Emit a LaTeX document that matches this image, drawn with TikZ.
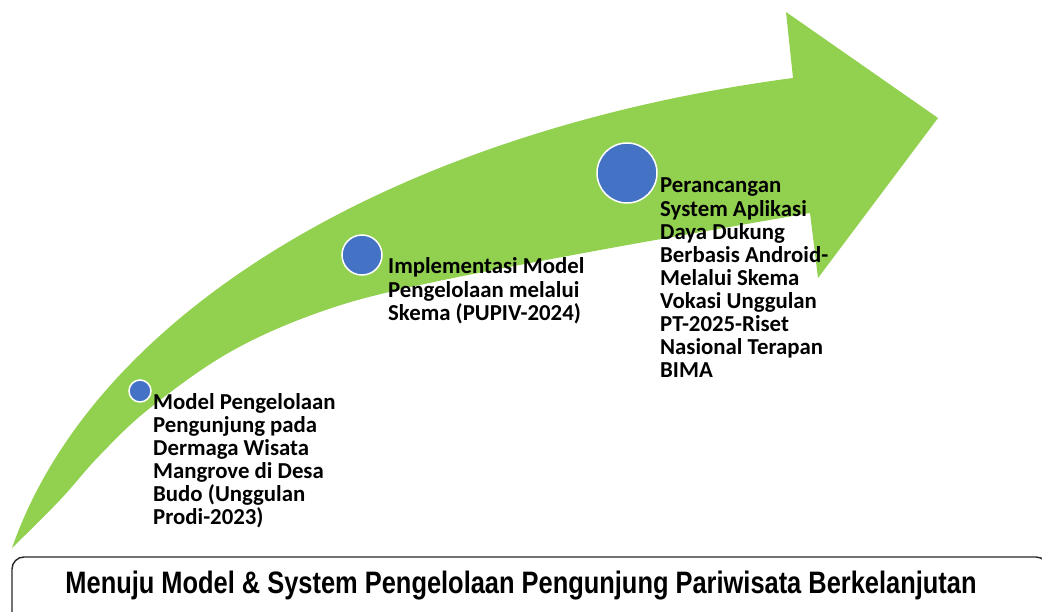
\documentclass[tikz,border=0pt]{standalone}
\usepackage{fontspec}
\setmainfont{Carlito}
\newfontfamily\goalfont{Liberation Sans}
\definecolor{arrowgreen}{HTML}{92D050}
\definecolor{dotblue}{HTML}{4472C4}
\begin{document}
\begin{tikzpicture}[x=1pt,y=-1pt,
  dot/.style={circle,fill=dotblue,draw=white,line width=1.5pt,inner sep=0pt},
  % anchored at the baseline of the last line
  stagetext/.style={anchor=base west,align=left,inner sep=0pt,
    font=\fontsize{22.8}{23.1}\selectfont\bfseries},
  goalbox/.style={draw=black!85,line width=1.4pt,rounded corners=12pt,
    minimum width=1036pt,minimum height=70pt,inner sep=0pt},
]
\useasboundingbox (0,0) rectangle (1042,612);

% curved road-map arrow: upper edge, arrow head, lower edge back to the tail
\coordinate (tail) at (12,548);
\coordinate (notchtop) at (793,78);
\coordinate (headtop) at (786,12);
\coordinate (headtip) at (938,118);
\coordinate (headbot) at (818,278);
\coordinate (notchbot) at (810,213);
\fill[arrowgreen]
  (tail) .. controls (95,310) and (400,130) .. (notchtop)
  -- (headtop) -- (headtip) -- (headbot) -- (notchbot)
  -- plot[smooth,tension=0.6] coordinates {(810,213) (600,250) (420,285)
    (320,312) (230,352) (150,408) (100,455) (60,500) (12,548)}
  -- cycle;

% milestones
\node[dot,minimum size=22pt] (m1) at (140,391) {};
\node[dot,minimum size=40pt] (m2) at (362,255) {};
\node[dot,minimum size=60pt] (m3) at (627,173) {};

\node[stagetext] (t1) at (153,524.5) {Model Pengelolaan\\Pengunjung pada\\
  Dermaga Wisata\\Mangrove di Desa\\Budo (Unggulan\\Prodi-2023)};
\node[stagetext] (t2) at (388,320.2) {Implementasi Model\\Pengelolaan melalui\\Skema (PUPIV-2024)};
\node[stagetext] (t3) at (660,377.8) {Perancangan\\System Aplikasi\\Daya Dukung\\
  Berbasis Android-\\Melalui Skema\\Vokasi Unggulan\\PT-2025-Riset\\Nasional Terapan\\BIMA};

% goal banner
\node[goalbox] (gb) at (530,592) {};
\node[inner sep=0pt] (goal) at (521,586) {\goalfont\bfseries\fontsize{31}{31}\selectfont
  \scalebox{0.82}[1]{Menuju Model \& System Pengelolaan Pengunjung Pariwisata Berkelanjutan}};
\end{tikzpicture}
\end{document}
